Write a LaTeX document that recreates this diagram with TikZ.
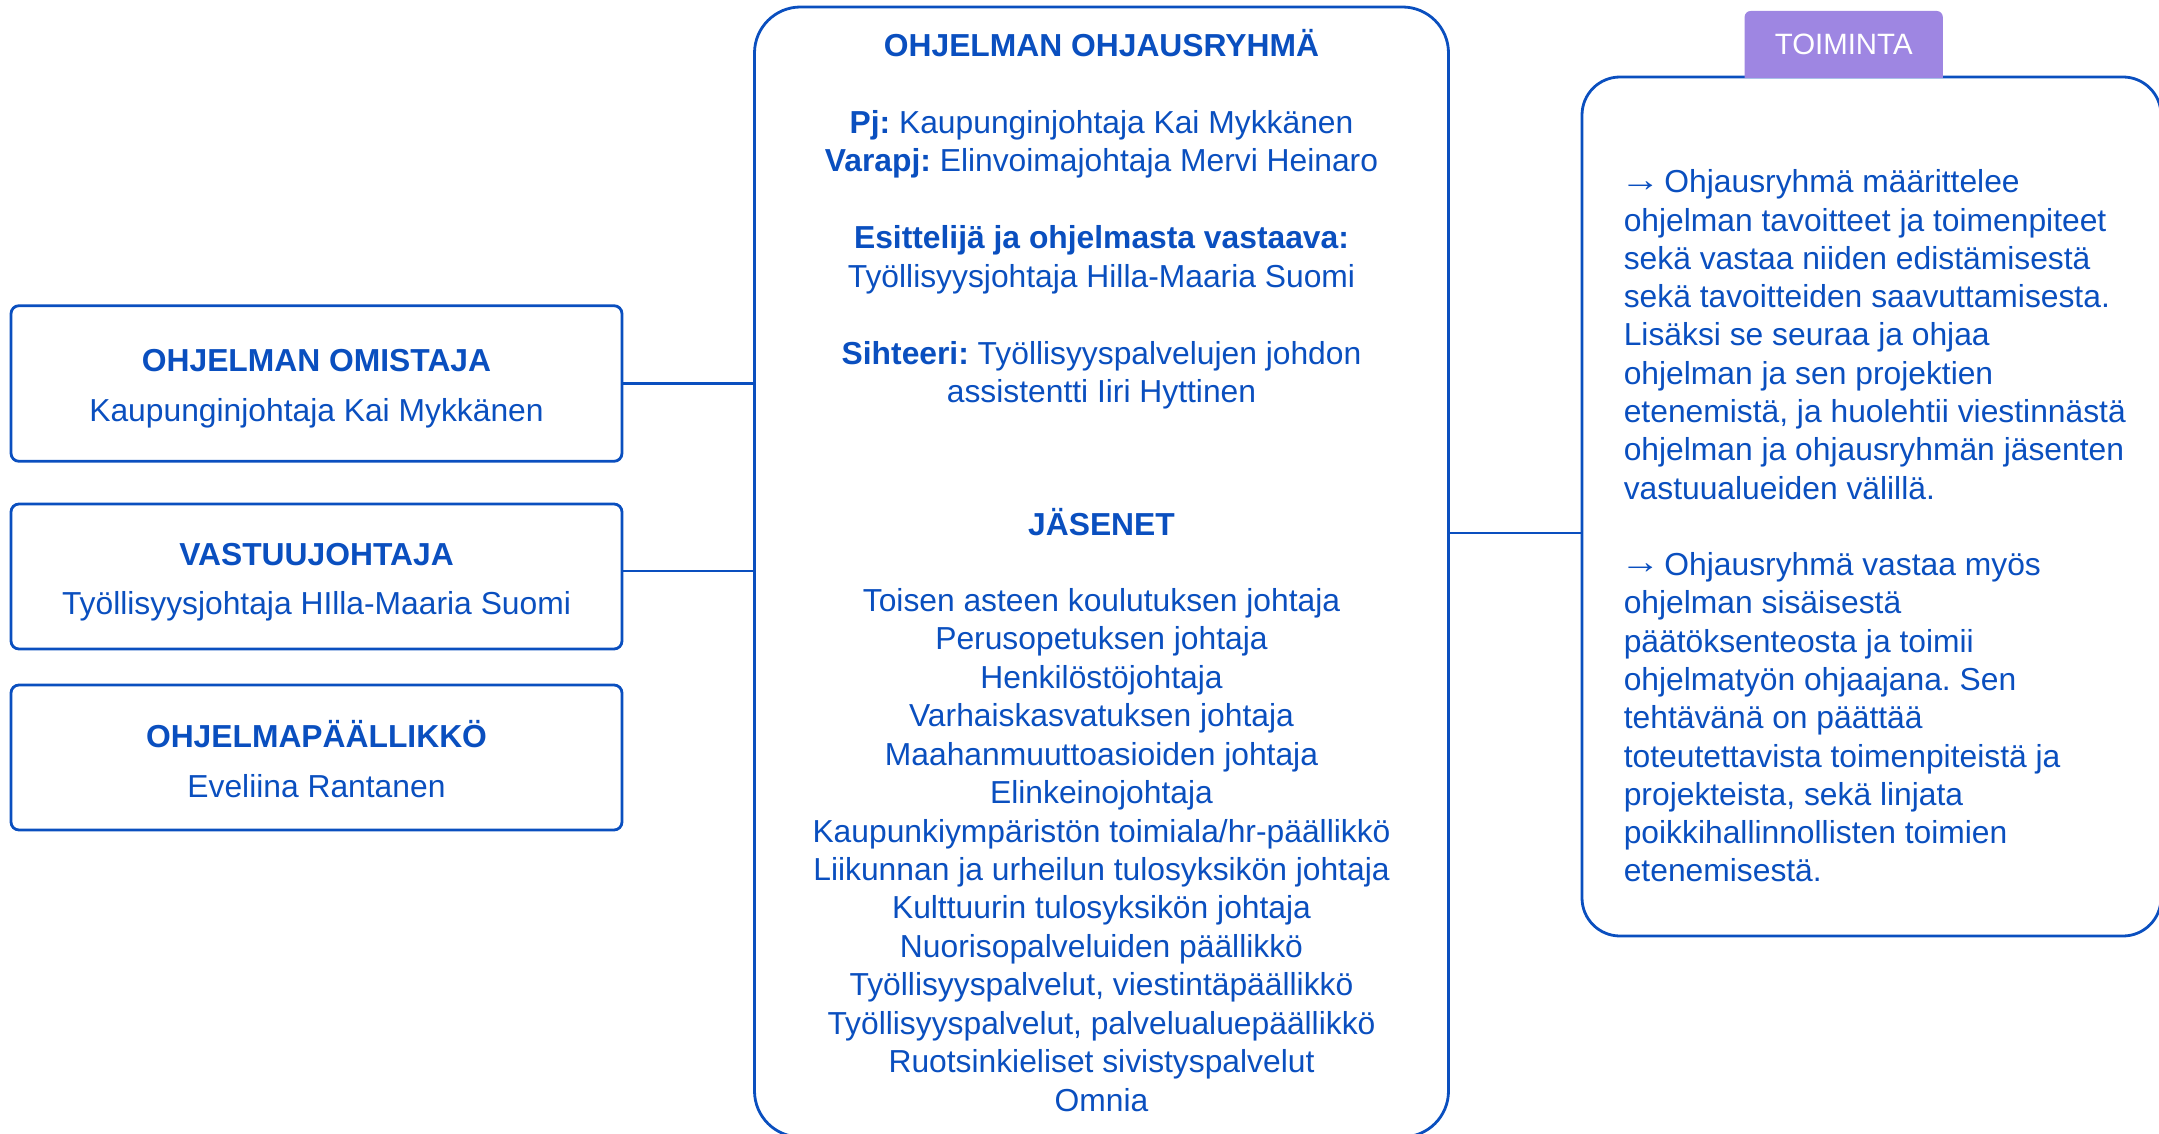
\documentclass[tikz,border=0pt]{standalone}
\usepackage{fontspec}
\setmainfont{Liberation Sans}
\definecolor{blu}{HTML}{0A4FBF}
\definecolor{purp}{HTML}{9E86E2}
\newcommand{\myarrow}{\rlap{\hspace{-1.75pt}\raisebox{0.8pt}{\scalebox{1.26}[1.08]{→}}}\phantom{→}}
\frenchspacing
\begin{document}
\frenchspacing
\begin{tikzpicture}[x=0.5pt,y=-0.5pt,
  every node/.style={text=blu, inner sep=0pt, font=\fontsize{15.9}{19.2}\selectfont\frenchspacing},
  conn/.style={draw=blu, line width=1.4pt},
  leftbox/.style={draw=blu, line width=1.4pt, rounded corners=4pt, minimum width=305.5pt},
  bigbox/.style={draw=blu, line width=1.4pt},
  cline/.style={anchor=base},
  rline/.style={anchor=base west}
]
\useasboundingbox (0,0) rectangle (2159,1134);

% left boxes
\node[leftbox, minimum height=77.8pt] (b1) at (316.5,383.5) {};
\node[leftbox, minimum height=72.5pt] (b2) at (316.5,576.5) {};
\node[leftbox, minimum height=72.5pt] (b3) at (316.5,757.5) {};
\node[cline] (b1t) at (316.5,371.7) {\textbf{OHJELMAN OMISTAJA}};
\node[cline] (b1n) at (316.5,421.3) {Kaupunginjohtaja Kai Mykkänen};
\node[cline] (b2t) at (316.5,565.9) {\textbf{VASTUUJOHTAJA}};
\node[cline] (b2n) at (316.5,614.1) {Työllisyysjohtaja HIlla-Maaria Suomi};
\node[cline] (b3t) at (316.5,747.6) {\textbf{OHJELMAPÄÄLLIKKÖ}};
\node[cline] (b3n) at (316.5,797.2) {Eveliina Rantanen};

% center box
\node[bigbox, rounded corners=23pt, minimum width=347pt, minimum height=565pt] (cb) at (1101.5,572) {};
\node[cline] (t0) at (1101.5,56.4) {\textbf{OHJELMAN OHJAUSRYHMÄ}};
\node[cline] (t1) at (1101.5,133.5) {\textbf{Pj:} Kaupunginjohtaja Kai Mykkänen};
\node[cline] (t2) at (1101.5,172) {\textbf{Varapj:} Elinvoimajohtaja Mervi Heinaro};
\node[cline] (t3) at (1101.5,249) {\textbf{Esittelijä ja ohjelmasta vastaava:}};
\node[cline] (t4) at (1101.5,287.5) {Työllisyysjohtaja Hilla-Maaria Suomi};
\node[cline] (t5) at (1101.5,364.3) {\textbf{Sihteeri:} Työllisyyspalvelujen johdon};
\node[cline] (t6) at (1101.5,402.8) {assistentti Iiri Hyttinen};
\node[cline] (t7) at (1101.5,535.6) {\textbf{JÄSENET}};
\foreach \t [count=\i from 0] in {
  {Toisen asteen koulutuksen johtaja},
  {Perusopetuksen johtaja},
  {Henkilöstöjohtaja},
  {Varhaiskasvatuksen johtaja},
  {Maahanmuuttoasioiden johtaja},
  {Elinkeinojohtaja},
  {Kaupunkiympäristön toimiala/hr-päällikkö},
  {Liikunnan ja urheilun tulosyksikön johtaja},
  {Kulttuurin tulosyksikön johtaja},
  {Nuorisopalveluiden päällikkö},
  {Työllisyyspalvelut, viestintäpäällikkö},
  {Työllisyyspalvelut, palvelualuepäällikkö},
  {Ruotsinkieliset sivistyspalvelut},
  {Omnia}}
  \node[cline] (m\i) at (1101.5,611.3+38.45*\i) {\t};

% right box
\node[bigbox, rounded corners=19pt, minimum width=289.5pt, minimum height=429.5pt] (rb) at (1871.5,506.5) {};
\foreach \t [count=\i from 0] in {
  {\myarrow{} Ohjausryhmä määrittelee},
  {ohjelman tavoitteet ja toimenpiteet},
  {sekä vastaa niiden edistämisestä},
  {sekä tavoitteiden saavuttamisesta.},
  {Lisäksi se seuraa ja ohjaa},
  {ohjelman ja sen projektien},
  {etenemistä, ja huolehtii viestinnästä},
  {ohjelman ja ohjausryhmän jäsenten},
  {vastuualueiden välillä.}}
  \node[rline] (p\i) at (1623.4,192.8+38.3*\i) {\t};
\foreach \t [count=\i from 0] in {
  {\myarrow{} Ohjausryhmä vastaa myös},
  {ohjelman sisäisestä},
  {päätöksenteosta ja toimii},
  {ohjelmatyön ohjaajana. Sen},
  {tehtävänä on päättää},
  {toteutettavista toimenpiteistä ja},
  {projekteista, sekä linjata},
  {poikkihallinnollisten toimien},
  {etenemisestä.}}
  \node[rline] (q\i) at (1623.4,575.5+38.3*\i) {\t};

% tab
\fill[purp, rounded corners=3pt] (1744.6,78) -- (1744.6,11) -- (1942.8,11) [sharp corners] -- (1942.8,78) -- cycle;
\node[text=white, font=\fontsize{14.7}{17}\selectfont] (tab) at (1843.7,44.5) {TOIMINTA};

% connectors
\draw[conn] (b1.east) -- (b1.east -| cb.west);
\draw[conn] ([yshift=2.75pt]b2.east) -- ([yshift=2.75pt]b2.east -| cb.west);
\draw[conn] ([yshift=-13.25pt]rb.west -| cb.east) -- ([yshift=-13.25pt]rb.west);
\end{tikzpicture}
\end{document}
